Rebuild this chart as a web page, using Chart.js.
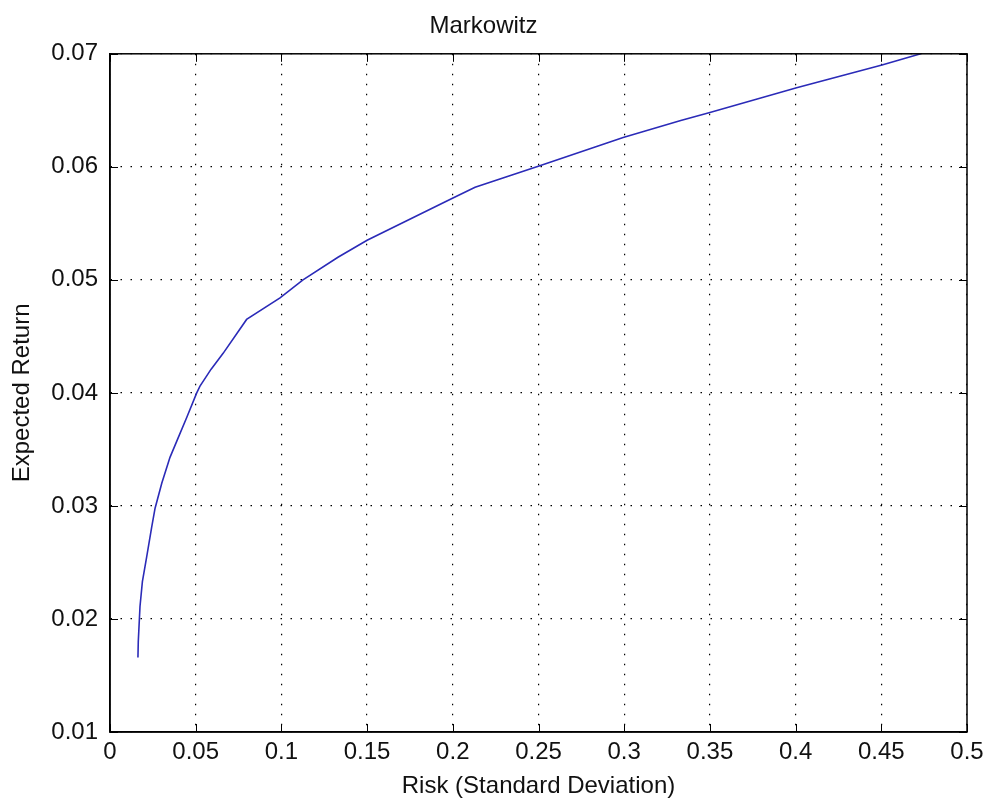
<!DOCTYPE html>
<html>
<head>
<meta charset="utf-8">
<title>Markowitz</title>
<script src="https://cdn.jsdelivr.net/npm/chart.js@4/dist/chart.umd.min.js"></script>
<style>
  html, body { margin: 0; padding: 0; background: #fff; }
  #wrap { width: 991px; height: 808px; position: relative; }
</style>
</head>
<body>
<div id="wrap"><canvas id="frontier"></canvas></div>
<script>
// ---------- Data ----------
const risk = [0.0163, 0.0165, 0.0175, 0.0189, 0.0214, 0.0243, 0.0263, 0.0302, 0.035, 0.0397,
              0.0447, 0.0506, 0.0525, 0.059, 0.066, 0.0797, 0.0992, 0.1126, 0.133, 0.15, 0.1995,
              0.213, 0.249, 0.2994, 0.333, 0.35, 0.4006, 0.4504, 0.473];
const expectedReturn = [0.0166, 0.0180, 0.0211, 0.0233, 0.0255, 0.0281, 0.0298, 0.0320, 0.0343, 0.0360,
              0.0378, 0.0400, 0.0406, 0.0421, 0.0435, 0.0465, 0.0484, 0.0500, 0.0520, 0.0535, 0.0572,
              0.0582, 0.0600, 0.0626, 0.0641, 0.0648, 0.0670, 0.0690, 0.0700];
const xTicks = [0, 0.05, 0.1, 0.15, 0.2, 0.25, 0.3, 0.35, 0.4, 0.45, 0.5];
const yTicks = [0.01, 0.02, 0.03, 0.04, 0.05, 0.06, 0.07];

const FONT = 'Liberation Sans, Arial, sans-serif';
const trim = (v) => String(parseFloat(v.toFixed(3)));

// box round the plot + small inner tick marks (MATLAB style)
const boxPlugin = {
  id: 'box',
  afterDraw(chart) {
    const { ctx, chartArea: a, scales } = chart;
    ctx.save();
    ctx.strokeStyle = '#000';
    ctx.lineWidth = 1.5;
    ctx.strokeRect(a.left, a.top, a.right - a.left, a.bottom - a.top);
    ctx.lineWidth = 1;
    ctx.beginPath();
    xTicks.forEach((v) => {
      const px = Math.round(scales.x.getPixelForValue(v)) + 0.5;
      ctx.moveTo(px, a.bottom); ctx.lineTo(px, a.bottom - 8);
      ctx.moveTo(px, a.top); ctx.lineTo(px, a.top + 8);
    });
    yTicks.forEach((v) => {
      const py = Math.round(scales.y.getPixelForValue(v)) + 0.5;
      ctx.moveTo(a.left, py); ctx.lineTo(a.left + 8, py);
      ctx.moveTo(a.right, py); ctx.lineTo(a.right - 8, py);
    });
    ctx.stroke();
    ctx.restore();
  },
};

const gridStyle = { color: '#000', lineWidth: 1.2, drawTicks: false };
const borderStyle = { color: '#000', width: 1.5, dash: [1.5, 8.5] };

new Chart(document.getElementById('frontier').getContext('2d'), {
  type: 'scatter',
  data: {
    datasets: [{
      label: 'Efficient frontier',
      data: risk.map((r, i) => ({ x: r, y: expectedReturn[i] })),
      showLine: true,
      borderColor: '#2b2bb8',
      borderWidth: 1.6,
      pointRadius: 0,
      tension: 0,
    }],
  },
  options: {
    responsive: true, maintainAspectRatio: false, animation: false,
    layout: { padding: { left: 0, right: 24, top: 0, bottom: 0 } },
    plugins: {
      legend: { display: false },
      tooltip: { enabled: false },
      title: {
        display: true, text: 'Markowitz', color: '#111',
        font: { family: FONT, size: 24, weight: 'normal', lineHeight: 1.2 },
        padding: { top: 12, bottom: 13 },
      },
    },
    scales: {
      x: {
        type: 'linear', min: 0, max: 0.5,
        grid: gridStyle, border: borderStyle,
        afterBuildTicks: (s) => { s.ticks = xTicks.map((v) => ({ value: v })); },
        afterFit: (s) => { s.height = 76; },
        ticks: {
          color: '#111', padding: 6, maxRotation: 0, autoSkip: false,
          font: { family: FONT, size: 24 },
          callback: (v) => trim(v),
        },
        title: {
          display: true, text: 'Risk (Standard Deviation)', color: '#111',
          font: { family: FONT, size: 24 }, padding: { top: 0, bottom: 7 },
        },
      },
      y: {
        type: 'linear', min: 0.01, max: 0.07,
        grid: gridStyle, border: borderStyle,
        afterBuildTicks: (s) => { s.ticks = yTicks.map((v) => ({ value: v })); },
        afterFit: (s) => { s.width = 110; },
        ticks: {
          color: '#111', padding: 12, autoSkip: false,
          font: { family: FONT, size: 24 },
          callback: (v) => v.toFixed(2),
        },
        title: {
          display: true, text: 'Expected Return', color: '#111',
          font: { family: FONT, size: 24 }, padding: { top: 8, bottom: 0 },
        },
      },
    },
  },
  plugins: [boxPlugin],
});
</script>
</body>
</html>
